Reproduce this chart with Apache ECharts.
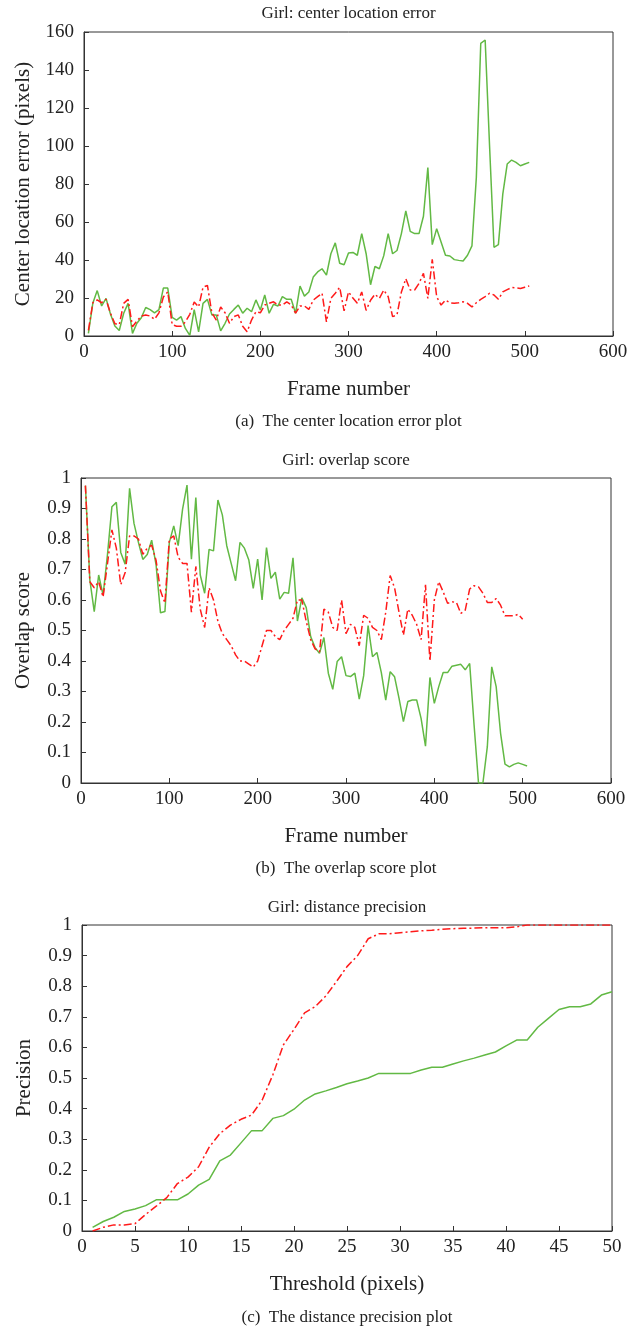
<!DOCTYPE html>
<html>
<head>
<meta charset="utf-8">
<script src="https://cdn.jsdelivr.net/npm/echarts@6/dist/echarts.min.js"></script>
<style>
  html, body { margin: 0; padding: 0; background: #fff; }
  #main { width: 640px; height: 1331px; }
</style>
</head>
<body>
<div id="main"></div>
<script>
// frame numbers (every 5 frames) used by plots (a) and (b)
const frames = [5, 10, 15, 20, 25, 30, 35, 40, 45, 50, 55, 60, 65, 70, 75, 80, 85, 90, 95, 100,
  105, 110, 115, 120, 125, 130, 135, 140, 145, 150, 155, 160, 165, 170, 175, 180, 185, 190, 195, 200,
  205, 210, 215, 220, 225, 230, 235, 240, 245, 250, 255, 260, 265, 270, 275, 280, 285, 290, 295, 300,
  305, 310, 315, 320, 325, 330, 335, 340, 345, 350, 355, 360, 365, 370, 375, 380, 385, 390, 395, 400,
  405, 410, 415, 420, 425, 430, 435, 440, 445, 450, 455, 460, 465, 470, 475, 480, 485, 490, 495, 500, 505];

// (a) center location error, green solid
const errGreen = [1.4, 17.2, 23.9, 15.8, 19.8, 11.6, 5.3, 2.9, 12, 17.2, 1.4, 6.7, 9.6, 15, 13.9, 12.2, 13.9, 25.2, 25.2, 9.8,
  8.4, 10.2, 4, 0.3, 13.9, 2.2, 17.2, 19.3, 11.1, 11.1, 2.7, 6.7, 11.6, 14, 16.3, 12, 14.6, 12.8, 19, 13.7,
  21.6, 12, 16.7, 15.8, 20.7, 19.3, 19.3, 12, 26.3, 21, 23.2, 31, 33.7, 35.4, 32, 43.3, 49, 38.3, 37.5, 43.7,
  44, 42.5, 53.9, 43.3, 27, 36.6, 35.4, 42.3, 53.9, 43.3, 45, 53.9, 65.8, 55.1, 53.9, 53.9, 63, 88.6, 48.1, 56.5,
  49.5, 42.5, 42.1, 40.2, 39.8, 39.5, 42.5, 47.4, 83.5, 154, 155.8, 100, 46.7, 48.1, 74.7, 90.5, 92.6, 91.4, 89.6, 90.5, 91.4];
// (a) center location error, red dash-dot
const errRed = [3, 17.5, 19, 17.5, 19.3, 12, 6.5, 6, 17.2, 19.3, 4.9, 7.9, 10.5, 11.1, 10.5, 8.8, 12.2, 20.5, 23.2, 6,
  5.1, 5.1, 7.4, 11.4, 17.9, 15.3, 25.7, 26.6, 12.2, 8.4, 15.3, 12.2, 6.7, 10.2, 11.1, 5.1, 2.2, 8.4, 12.8, 12.2,
  16.3, 17.2, 18, 16.3, 16.3, 18, 16.3, 12, 15.8, 15.8, 14, 18.9, 20.7, 22.5, 7.4, 19.8, 22.5, 25.7, 13.2, 23.2,
  20, 17.2, 23.2, 13.5, 18.8, 22, 19.8, 24.2, 20.7, 10.2, 11.1, 23.2, 30.2, 24.2, 24.2, 27.7, 33, 19.8, 40.3, 20.7,
  16.3, 18.9, 17.5, 17.2, 17.5, 18, 17.2, 15.3, 17.5, 19.3, 20.7, 22.5, 21.6, 19.3, 23.2, 24.4, 25.5, 25.3, 25, 25.7, 26.3];

// (b) overlap score, green solid
const ovGreen = [0.975, 0.666, 0.562, 0.682, 0.616, 0.75, 0.906, 0.92, 0.756, 0.717, 0.966, 0.851, 0.789, 0.733, 0.749, 0.796, 0.715, 0.558, 0.562, 0.789,
  0.843, 0.778, 0.898, 0.977, 0.734, 0.936, 0.682, 0.622, 0.766, 0.761, 0.928, 0.879, 0.778, 0.72, 0.663, 0.789, 0.77, 0.731, 0.638, 0.734,
  0.6, 0.772, 0.671, 0.691, 0.603, 0.625, 0.622, 0.738, 0.531, 0.607, 0.575, 0.48, 0.444, 0.425, 0.477, 0.36, 0.307, 0.398, 0.414, 0.352,
  0.349, 0.36, 0.275, 0.352, 0.516, 0.414, 0.428, 0.362, 0.272, 0.365, 0.348, 0.278, 0.201, 0.267, 0.272, 0.272, 0.212, 0.121, 0.346, 0.261,
  0.316, 0.362, 0.362, 0.383, 0.386, 0.389, 0.371, 0.392, 0.19, 0, 0, 0.119, 0.381, 0.316, 0.163, 0.062, 0.053, 0.061, 0.066, 0.061, 0.056];
// (b) overlap score, red dash-dot (ends at frame 500)
const ovRed = [0.975, 0.66, 0.64, 0.66, 0.61, 0.72, 0.83, 0.77, 0.65, 0.69, 0.81, 0.81, 0.8, 0.75, 0.77, 0.78, 0.73, 0.63, 0.59, 0.8,
  0.81, 0.74, 0.72, 0.72, 0.56, 0.71, 0.57, 0.51, 0.64, 0.6, 0.53, 0.49, 0.47, 0.45, 0.42, 0.4, 0.4, 0.39, 0.38, 0.4,
  0.45, 0.5, 0.5, 0.48, 0.47, 0.5, 0.52, 0.54, 0.6, 0.6, 0.53, 0.47, 0.44, 0.43, 0.57, 0.56, 0.51, 0.5, 0.6, 0.49,
  0.52, 0.51, 0.45, 0.55, 0.54, 0.51, 0.5, 0.47, 0.56, 0.68, 0.64, 0.56, 0.485, 0.57, 0.55, 0.52, 0.47, 0.65, 0.4, 0.6,
  0.66, 0.627, 0.589, 0.594, 0.592, 0.556, 0.567, 0.636, 0.647, 0.643, 0.622, 0.592, 0.592, 0.605, 0.583, 0.548, 0.548, 0.548, 0.553, 0.537];

// (c) distance precision
const thresholds = [1, 2, 3, 4, 5, 6, 7, 8, 9, 10, 11, 12, 13, 14, 15, 16, 17, 18, 19, 20, 21, 22, 23, 24, 25,
  26, 27, 28, 29, 30, 31, 32, 33, 34, 35, 36, 37, 38, 39, 40, 41, 42, 43, 44, 45, 46, 47, 48, 49, 50];
const precGreen = [0.012, 0.031, 0.045, 0.064, 0.072, 0.083, 0.102, 0.102, 0.102, 0.121, 0.15, 0.169, 0.229, 0.248, 0.288, 0.328, 0.328, 0.368, 0.377, 0.398, 0.428, 0.448, 0.458, 0.469, 0.481,
  0.49, 0.5, 0.515, 0.515, 0.515, 0.515, 0.526, 0.535, 0.535, 0.546, 0.556, 0.565, 0.575, 0.585, 0.605, 0.624, 0.624, 0.666, 0.695, 0.724, 0.733, 0.733, 0.742, 0.771, 0.782];
const precRed = [0, 0.012, 0.02, 0.02, 0.024, 0.054, 0.081, 0.109, 0.155, 0.176, 0.21, 0.274, 0.318, 0.346, 0.365, 0.379, 0.428, 0.51, 0.608, 0.659, 0.713, 0.733, 0.768, 0.815, 0.864,
  0.9, 0.955, 0.971, 0.971, 0.975, 0.978, 0.981, 0.983, 0.986, 0.988, 0.989, 0.99, 0.991, 0.991, 0.991, 0.994, 1, 1, 1, 1, 1, 1, 1, 1, 1];

const titles = ['Girl: center location error', 'Girl: overlap score', 'Girl: distance precision'];
const captions = ['(a)  The center location error plot', '(b)  The overlap score plot', '(c)  The distance precision plot'];
const xNames = ['Frame number', 'Frame number', 'Threshold (pixels)'];
const yNames = ['Center location error (pixels)', 'Overlap score', 'Precision'];

const FONT = "'Liberation Serif', 'DejaVu Serif', serif";
const GREEN = '#62b944';
const RED = '#ff1a1a';
const INK = '#222';

const pairs = (xs, ys) => ys.map((v, i) => [xs[i], v]);

const grids = [
  { left: 84, top: 32, width: 529, height: 304 },
  { left: 81, top: 478, width: 530, height: 305 },
  { left: 82, top: 925, width: 530, height: 306 }
];
const titleY = [14, 461, 908];
const captionY = [422, 869, 1318];
const yNameGap = [50, 47, 47];

const xRanges = [
  { min: 0, max: 600, interval: 100 },
  { min: 0, max: 600, interval: 100 },
  { min: 0, max: 50, interval: 5 }
];
const yRanges = [
  { min: 0, max: 160, interval: 20 },
  { min: 0, max: 1, interval: 0.1 },
  { min: 0, max: 1, interval: 0.1 }
];

const axisCommon = {
  axisLine: { show: true, lineStyle: { color: '#333', width: 1 } },
  axisTick: { show: true, inside: true, length: 5, lineStyle: { color: '#333' } },
  splitLine: { show: false },
  axisLabel: { color: INK, fontFamily: FONT, fontSize: 19 },
  nameTextStyle: { color: INK, fontFamily: FONT, fontSize: 21 }
};

const chart = echarts.init(document.getElementById('main'));

const lineSeries = (idx, data, color, dashed) => ({
  type: 'line',
  xAxisIndex: idx,
  yAxisIndex: idx,
  data: data,
  showSymbol: false,
  symbol: 'none',
  animation: false,
  clip: true,
  lineStyle: { color: color, width: 1.5, type: dashed ? [8, 3, 2, 3] : 'solid' }
});

const option = {
  backgroundColor: '#fff',
  animation: false,
  grid: grids.map(g => Object.assign({ show: true, borderColor: '#333', borderWidth: 1, containLabel: false }, g)),
  xAxis: grids.map((g, i) => Object.assign({}, axisCommon, xRanges[i], {
    type: 'value',
    gridIndex: i,
    name: xNames[i],
    nameLocation: 'middle',
    nameGap: 43,
    axisLabel: Object.assign({}, axisCommon.axisLabel, { margin: 7 })
  })),
  yAxis: grids.map((g, i) => Object.assign({}, axisCommon, yRanges[i], {
    type: 'value',
    gridIndex: i,
    name: yNames[i],
    nameLocation: 'middle',
    nameGap: yNameGap[i],
    axisLabel: Object.assign({}, axisCommon.axisLabel, { margin: 10 })
  })),
  graphic: titles.map((t, i) => ({
    type: 'text',
    x: grids[i].left + grids[i].width / 2,
    y: titleY[i],
    style: { text: t, fill: INK, font: '17px ' + FONT, align: 'center', verticalAlign: 'middle' }
  })).concat(captions.map((c, i) => ({
    type: 'text',
    x: grids[i].left + grids[i].width / 2,
    y: captionY[i],
    style: { text: c, fill: INK, font: '17px ' + FONT, align: 'center', verticalAlign: 'middle' }
  }))),
  series: [
    lineSeries(0, pairs(frames, errGreen), GREEN, false),
    lineSeries(0, pairs(frames, errRed), RED, true),
    lineSeries(1, pairs(frames, ovGreen), GREEN, false),
    lineSeries(1, pairs(frames, ovRed), RED, true),
    lineSeries(2, pairs(thresholds, precGreen), GREEN, false),
    lineSeries(2, pairs(thresholds, precRed), RED, true)
  ]
};

chart.setOption(option);
</script>
</body>
</html>
